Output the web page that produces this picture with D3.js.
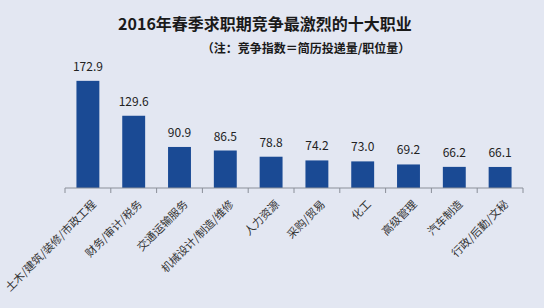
<!DOCTYPE html>
<html>
<head>
<meta charset="utf-8">
<script src="https://cdn.jsdelivr.net/npm/d3@7"></script>
<style>
  body { margin: 0; background: #e3e7f2; }
  svg { display: block; font-family: "Noto Sans CJK SC", "Noto Sans", sans-serif; }
</style>
</head>
<body>
<div id="chart"></div>
<script>
var categories = ["土木/建筑/装修/市政工程", "财务/审计/税务", "交通运输服务", "机械设计/制造/维修",
  "人力资源", "采购/贸易", "化工", "高级管理", "汽车制造", "行政/后勤/文秘"];
var values = [172.9, 129.6, 90.9, 86.5, 78.8, 74.2, 73.0, 69.2, 66.2, 66.1];

var title = "2016年春季求职期竞争最激烈的十大职业";
var subtitle = "（注：竞争指数＝简历投递量/职位量）";

var W = 544, H = 308;
var margin = {top: 59, right: 21, bottom: 120, left: 65},
    width = W - margin.left - margin.right,
    height = H - margin.top - margin.bottom;

var svg = d3.select("#chart").append("svg")
    .attr("width", W)
    .attr("height", H);

svg.append("rect").attr("width", W).attr("height", H).attr("fill", "#e3e7f2");

// titles
svg.append("text")
  .attr("x", 265).attr("y", 30)
  .attr("text-anchor", "middle")
  .attr("font-size", 16).attr("font-weight", "bold")
  .attr("fill", "#1a1a1a")
  .text(title);
svg.append("text")
  .attr("x", 306).attr("y", 53)
  .attr("text-anchor", "middle")
  .attr("font-size", 12).attr("font-weight", "bold")
  .attr("fill", "#1a1a1a")
  .text(subtitle);

var g = svg.append("g")
  .attr("transform", "translate(" + margin.left + "," + margin.top + ")");

var x = d3.scaleBand()
  .domain(categories)
  .range([0, width])
  .paddingInner(0.5)
  .paddingOuter(0.25);

var y = d3.scaleLinear()
  .domain([40, 200])
  .range([height, 0]);

// bars
g.selectAll("rect.bar")
  .data(values)
  .enter().append("rect")
  .attr("class", "bar")
  .attr("x", function(d, i){ return x(categories[i]); })
  .attr("width", x.bandwidth())
  .attr("y", function(d){ return y(d); })
  .attr("height", function(d){ return height - y(d); })
  .attr("fill", "#1a4a94");

// value labels
g.selectAll("text.val")
  .data(values)
  .enter().append("text")
  .attr("class", "val")
  .attr("x", function(d, i){ return x(categories[i]) + x.bandwidth() / 2; })
  .attr("y", function(d){ return y(d) - 10; })
  .attr("text-anchor", "middle")
  .attr("font-size", 12)
  .attr("fill", "#222")
  .text(function(d){ return d.toFixed(1); });

// x axis with ticks between categories
var axis = g.append("g")
  .attr("transform", "translate(0," + height + ")");
axis.append("line")
  .attr("x1", 0).attr("x2", width)
  .attr("stroke", "#8a8f99").attr("stroke-width", 1);
var step = x.step();
var edges = d3.range(categories.length + 1).map(function(i){ return x(categories[0]) - x.paddingInner() * step / 2 + i * step; });
axis.selectAll("line.tick")
  .data(edges)
  .enter().append("line")
  .attr("class", "tick")
  .attr("x1", function(d){ return d; }).attr("x2", function(d){ return d; })
  .attr("y1", 0).attr("y2", 5)
  .attr("stroke", "#8a8f99");

axis.selectAll("text.cat")
  .data(categories)
  .enter().append("text")
  .attr("class", "cat")
  .attr("transform", function(d){
    return "translate(" + (x(d) + x.bandwidth() / 2 + 9) + ",17) rotate(-45)";
  })
  .attr("text-anchor", "end")
  .attr("font-size", 11)
  .attr("fill", "#333")
  .text(function(d){ return d; });
</script>
</body>
</html>
